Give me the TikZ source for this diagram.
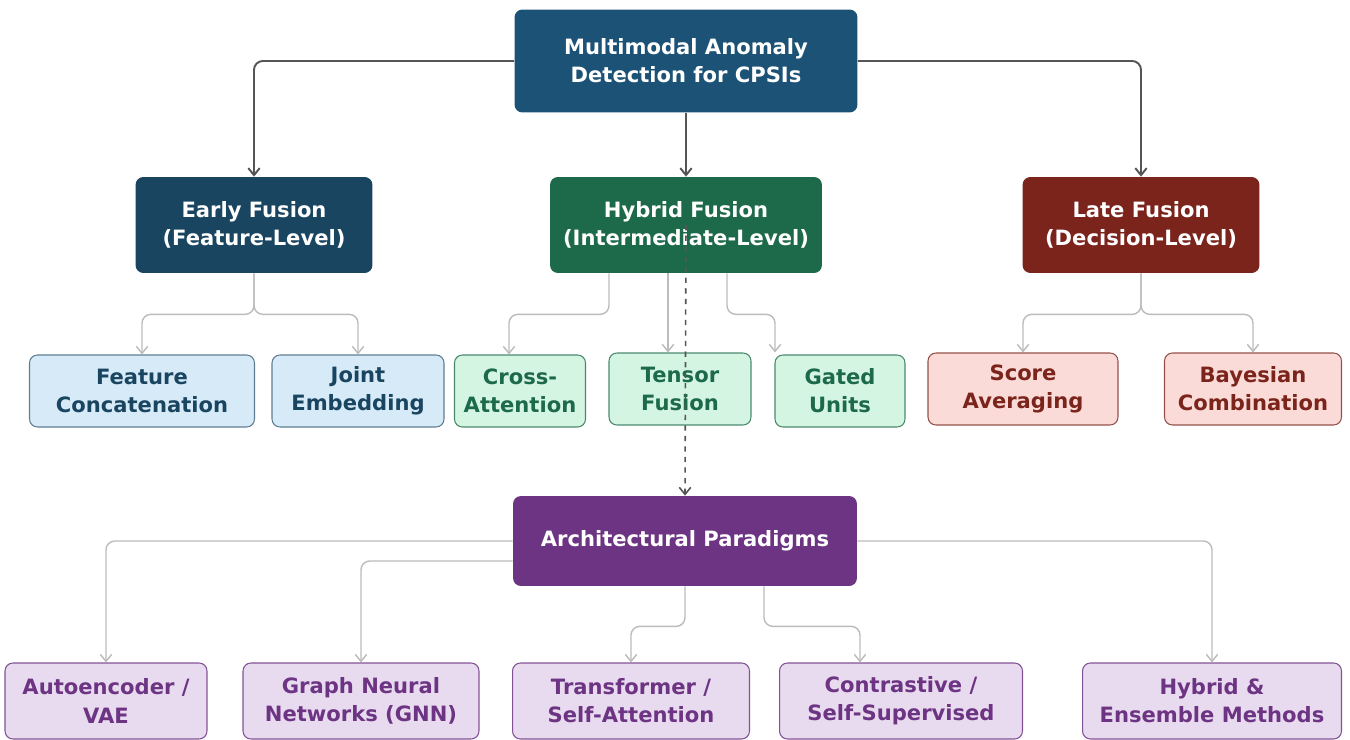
\documentclass[tikz,border=0pt]{standalone}
\usepackage{fontspec}
\setmainfont{DejaVu Sans}
\usepackage{xcolor}
\usetikzlibrary{arrows.meta, positioning, calc}
\definecolor{rootblue}{HTML}{1B5276}
\definecolor{earlyblue}{HTML}{1A4561}
\definecolor{hybgreen}{HTML}{1D6A4A}
\definecolor{latered}{HTML}{7B241C}
\definecolor{archpurple}{HTML}{6C3483}
\definecolor{bluefill}{HTML}{D6EAF8}
\definecolor{greenfill}{HTML}{D5F5E3}
\definecolor{redfill}{HTML}{FADBD8}
\definecolor{purplefill}{HTML}{E8DAEF}
\definecolor{darkline}{HTML}{555555}
\definecolor{liteline}{HTML}{BBBBBB}

\begin{document}
\begin{tikzpicture}[x=0.02cm,y=-0.02cm,>={Straight Barb[length=4pt,width=6.5pt]},
  box/.style={rounded corners=4.5pt,align=center,inner sep=0pt,
              font=\bfseries\fontsize{12}{16}\selectfont},
  head/.style={box,text=white,minimum height=1.92cm},
  leaf/.style={box,draw,line width=0.6pt,minimum height=1.44cm},
  bleaf/.style={leaf,fill=bluefill,draw=earlyblue!70,text=earlyblue},
  gleaf/.style={leaf,fill=greenfill,draw=hybgreen!80,text=hybgreen},
  rleaf/.style={leaf,fill=redfill,draw=latered!80,text=latered},
  pleaf/.style={leaf,fill=purplefill,draw=archpurple!85,text=archpurple,minimum height=1.52cm},
  main/.style={->,darkline,line width=1.1pt,rounded corners=5pt},
  lite/.style={->,liteline,line width=0.8pt,rounded corners=5pt}]
  \useasboundingbox (0,0) rectangle (1350,740);

  % top level
  \node[box,fill=rootblue,text=white,minimum width=6.86cm,minimum height=2.06cm] (root) at (686,61)
    {Multimodal Anomaly\\Detection for CPSIs};

  % fusion levels
  \node[head,fill=earlyblue,minimum width=4.74cm] (early) at (254,225) {Early Fusion\\(Feature-Level)};
  \node[head,fill=hybgreen,minimum width=5.44cm] (hybrid) at (686,225) {Hybrid Fusion\\(Intermediate-Level)};
  \node[head,fill=latered,minimum width=4.74cm] (late) at (1141,225) {Late Fusion\\(Decision-Level)};

  % fusion techniques
  \node[bleaf,minimum width=4.5cm] (concat) at (142,391) {Feature\\Concatenation};
  \node[bleaf,minimum width=3.44cm] (joint) at (358,391) {Joint\\Embedding};
  \node[gleaf,minimum width=2.62cm] (cross) at (520,391) {Cross-\\Attention};
  \node[gleaf,minimum width=2.84cm] (tensor) at (680,389) {Tensor\\Fusion};
  \node[gleaf,minimum width=2.6cm] (gated) at (840,391) {Gated\\Units};
  \node[rleaf,minimum width=3.8cm] (score) at (1023,389) {Score\\Averaging};
  \node[rleaf,minimum width=3.54cm] (bayes) at (1253,389) {Bayesian\\Combination};

  % architectures
  \node[box,fill=archpurple,text=white,minimum width=6.88cm,minimum height=1.8cm] (arch) at (685,541)
    {Architectural Paradigms};
  \node[pleaf,minimum width=4.04cm] (autoenc) at (106,701) {Autoencoder /\\VAE};
  \node[pleaf,minimum width=4.72cm] (gnn) at (361,701) {Graph Neural\\Networks (GNN)};
  \node[pleaf,minimum width=4.74cm] (transf) at (631,701) {Transformer /\\Self-Attention};
  \node[pleaf,minimum width=4.86cm] (contr) at (901,701) {Contrastive /\\Self-Supervised};
  \node[pleaf,minimum width=5.18cm] (ensemble) at (1212,701) {Hybrid \&\\Ensemble Methods};

  % connectors
  \draw[main] (root.west) -| (early.north);
  \draw[main] (root.south) -- (hybrid.north);
  \draw[main] (root.east) -| (late.north);

  \draw[lite] (early.south) -- ++(0,41) -| (concat.north);
  \draw[lite] (early.south) -- ++(0,41) -| (joint.north);
  \draw[lite] ($(hybrid.south)+(-77,0)$) -- ++(0,41) -| ($(cross.north)+(-11,0)$);
  \draw[lite] ($(hybrid.south)+(-18,0)$) -- ($(tensor.north)+(-12,0)$);
  \draw[lite] ($(hybrid.south)+(41,0)$) -- ++(0,41) -| ($(gated.north)+(-65,-2)$);
  \draw[lite] (late.south) -- ++(0,41) -| (score.north);
  \draw[lite] (late.south) -- ++(0,41) -| (bayes.north);

  \draw[main,line width=0.9pt,dashed] (hybrid.center) -- (arch.north);

  \draw[lite] (arch.west) -| (autoenc.north);
  \draw[lite] ($(arch.west)+(0,20)$) -| (gnn.north);
  \draw[lite] (arch.south) -- ++(0,40) -| (transf.north);
  \draw[lite] ($(arch.south)+(79,0)$) -- ++(0,40) -| ($(contr.north)+(-41,0)$);
  \draw[lite] (arch.east) -| (ensemble.north);
\end{tikzpicture}
\end{document}
